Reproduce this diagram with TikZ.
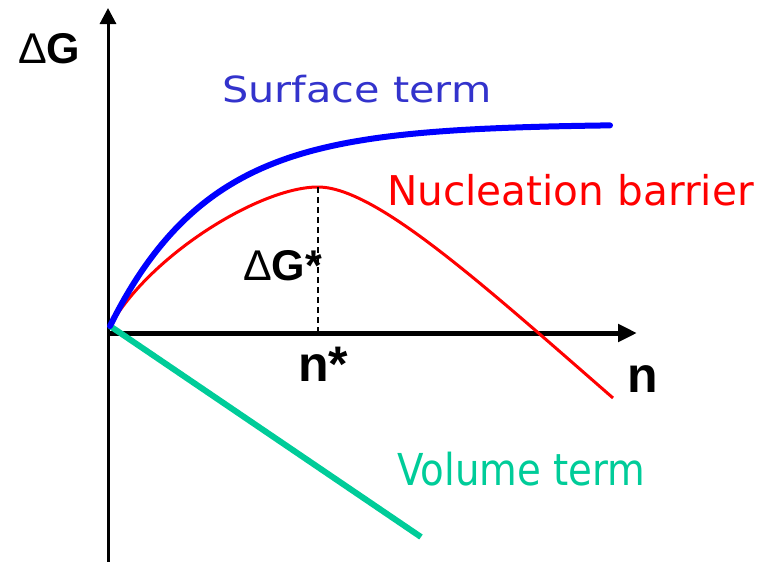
\documentclass[tikz,border=0pt]{standalone}
\usepackage{fontspec}
\setmainfont{Liberation Sans}
\newfontfamily\comicfont{DejaVu Sans}
\usetikzlibrary{arrows.meta}
\definecolor{surfblue}{RGB}{0,0,255}
\definecolor{surftext}{RGB}{51,51,204}
\definecolor{volgreen}{RGB}{0,204,153}
\definecolor{nucred}{RGB}{255,0,0}
\tikzset{
  axis/.style={draw=black},
  bigbold/.style={font=\fontsize{43}{43}\selectfont\bfseries, inner sep=0pt},
  nbold/.style={font=\fontsize{50}{50}\selectfont\bfseries, inner sep=0pt},
  comictext/.style={font=\comicfont, inner sep=0pt},
}
\begin{document}
\begin{tikzpicture}[x=1pt,y=-1pt]
\useasboundingbox (0,0) rectangle (769,562);
% axes
\coordinate (ybot) at (108,562);
\coordinate (ytop) at (108,8);
\coordinate (xl) at (108,333);
\coordinate (xr) at (637,333);
\draw[axis, line width=3pt, -{Triangle[length=16pt,width=16pt]}] (ybot) -- (ytop);
\draw[axis, line width=5pt, -{Triangle[length=19pt,width=17pt]}] (xl) -- (xr);
% origin
\coordinate (o) at (110,326);
% volume term
\coordinate (vend) at (421,537);
\draw[volgreen, line width=6pt] (o) -- (vend);
% nucleation barrier
\coordinate (peak) at (318,187);
\coordinate (rend) at (613,398);
\draw[nucred, line width=3pt] (o) .. controls (150,255) and (260,187) .. (peak)
   .. controls (375,187) and (480,282) .. (rend);
% surface term
\draw[surfblue, line width=6pt, line cap=round] plot[domain=110:610, samples=80, smooth] (\x, {326 - 202*(1-exp(-(\x-110)/100))});
% dashed
\coordinate (pfoot) at (318,333);
\draw[dashed, line width=1.2pt, dash pattern=on 6pt off 4pt] (peak) -- (pfoot);
% labels
\node[bigbold, anchor=base west] (dg) at (18,63) {{\mdseries Δ}G};
\node[bigbold, anchor=base west] (dgs) at (243,280) {{\mdseries Δ}G*};
\node[nbold, anchor=base west] (ns) at (298,381) {n*};
\node[nbold, anchor=base west] (nn) at (627,392) {n};
\node[comictext, text=surftext, anchor=base west] (st) at (222,102) {\scalebox{1.15}[1]{\fontsize{36}{36}\selectfont Surface term}};
\node[comictext, text=nucred, anchor=base west] (nb) at (387,205) {\scalebox{0.99}[1]{\fontsize{41}{41}\selectfont Nucleation barrier}};
\node[comictext, text=volgreen, anchor=base west] (vt) at (397,485) {\scalebox{0.88}[1]{\fontsize{44}{44}\selectfont Volume term}};
\end{tikzpicture}
\end{document}
